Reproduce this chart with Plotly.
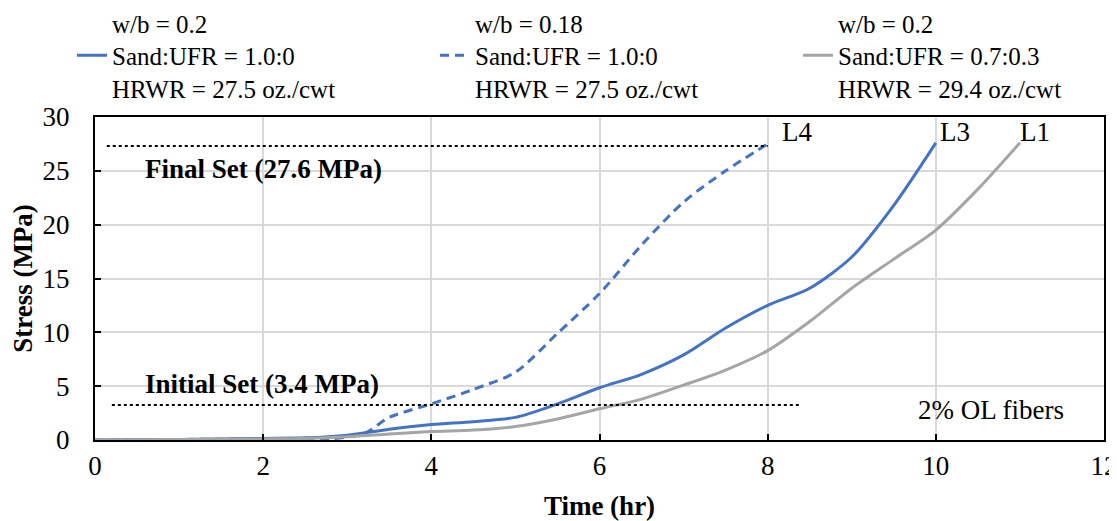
import plotly.graph_objects as go

# ---- data ----
t_L3 = [0, 1, 2, 2.5, 3, 3.5, 4, 4.5, 5, 5.5, 6, 6.5, 7, 7.5, 8, 8.5, 9, 9.5, 10]
s_L3 = [0, 0.05, 0.15, 0.2, 0.45, 1.0, 1.43, 1.7, 2.1, 3.35, 4.85, 6.1, 7.9, 10.4, 12.5, 14.1, 17.0, 21.8, 27.6]

t_L4 = [0, 1, 2, 2.5, 2.8, 3.2, 3.5, 4, 4.5, 5, 5.5, 6, 6.5, 7, 7.5, 8]
s_L4 = [0, 0.05, 0.1, 0.1, 0.1, 0.6, 2.1, 3.35, 4.7, 6.3, 9.9, 13.6, 18.1, 22.1, 25.0, 27.5]

t_L1 = [0, 1, 2, 2.5, 3, 3.5, 4, 4.5, 5, 5.5, 6, 6.5, 7, 7.5, 8, 8.5, 9, 9.5, 10, 10.5, 11]
s_L1 = [0, 0.05, 0.1, 0.15, 0.3, 0.55, 0.78, 0.92, 1.25, 1.95, 2.9, 3.8, 5.1, 6.5, 8.3, 11.0, 14.1, 16.8, 19.5, 23.3, 27.6]

names = [
    "w/b = 0.2<br>Sand:UFR = 1.0:0<br>HRWR = 27.5 oz./cwt",
    "w/b = 0.18<br>Sand:UFR = 1.0:0<br>HRWR = 27.5 oz./cwt",
    "w/b = 0.2<br>Sand:UFR = 0.7:0.3<br>HRWR = 29.4 oz./cwt",
]
curve_labels = ["L3", "L4", "L1"]

initial_set_t = [0.2, 8.4]
initial_set_s = [3.25, 3.25]
final_set_t = [0.14, 8.0]
final_set_s = [27.3, 27.3]

x_ticks = [0, 2, 4, 6, 8, 10, 12]
y_ticks = [0, 5, 10, 15, 20, 25, 30]

BLUE = "#4472C4"
GRAY = "#A5A5A5"
FONT = "Liberation Serif"

# page has an 8px body margin: figure is 8px smaller so the plot area lands where the reference has it
W, H = 1109, 513
ML, MR, MT, MB = 87, 13, 109, 81
PW, PH = W - ML - MR, H - MT - MB

fig = go.Figure()
fig.add_trace(go.Scatter(x=t_L3, y=s_L3, mode="lines", name=names[0],
                         line=dict(color=BLUE, width=3, shape="spline", smoothing=0.8)))
fig.add_trace(go.Scatter(x=t_L4, y=s_L4, mode="lines", name=names[1],
                         line=dict(color=BLUE, width=3, dash="9px,6px", shape="spline", smoothing=0.8)))
fig.add_trace(go.Scatter(x=t_L1, y=s_L1, mode="lines", name=names[2],
                         line=dict(color=GRAY, width=3, shape="spline", smoothing=0.8)))

fig.add_trace(go.Scatter(x=initial_set_t, y=initial_set_s, mode="lines", showlegend=False,
                         line=dict(color="black", width=2, dash="dot")))
fig.add_trace(go.Scatter(x=final_set_t, y=final_set_s, mode="lines", showlegend=False,
                         line=dict(color="black", width=2, dash="dot")))

ann_font = dict(family=FONT, size=27, color="black")
fig.add_annotation(x=0.57, y=25.2, text="<b>Final Set (27.6 MPa)</b>", showarrow=False,
                   xanchor="left", yanchor="middle", font=ann_font)
fig.add_annotation(x=0.57, y=5.2, text="<b>Initial Set (3.4 MPa)</b>", showarrow=False,
                   xanchor="left", yanchor="middle", font=ann_font)
fig.add_annotation(x=8.15, y=28.6, text=curve_labels[1], showarrow=False,
                   xanchor="left", yanchor="middle", font=ann_font)
fig.add_annotation(x=10.03, y=28.6, text=curve_labels[0], showarrow=False,
                   xanchor="left", yanchor="middle", font=ann_font)
fig.add_annotation(x=10.98, y=28.6, text=curve_labels[2], showarrow=False,
                   xanchor="left", yanchor="middle", font=ann_font)
fig.add_annotation(x=11.55, y=2.8, text="2% OL fibers", showarrow=False,
                   xanchor="right", yanchor="middle", font=ann_font)

axis_common = dict(
    showline=True, linecolor="black", linewidth=2, mirror=True,
    showgrid=True, gridcolor="#D9D9D9", gridwidth=1.5,
    ticks="inside", ticklen=6, tickcolor="black", tickwidth=1.5,
    zeroline=False, tickfont=dict(family=FONT, size=27, color="black"),
    automargin=False, ticklabeloverflow="allow",
)

fig.update_xaxes(range=[0, 12], tickvals=x_ticks, **axis_common, ticklabelstandoff=1,
                 title=dict(text="<b>Time (hr)</b>", font=dict(family=FONT, size=27, color="black"), standoff=20))
fig.update_yaxes(range=[0, 30], tickvals=y_ticks, **axis_common, ticklabelstandoff=18,
                 title=dict(text="<b>Stress (MPa)</b>", font=dict(family=FONT, size=27, color="black"), standoff=8))

fig.update_layout(
    width=W, height=H,
    margin=dict(l=ML, r=MR, t=MT, b=MB, autoexpand=False),
    paper_bgcolor="white", plot_bgcolor="white",
    font=dict(family=FONT, size=27, color="black"),
    legend=dict(orientation="h", x=-23 / PW, xanchor="left", xref="paper",
                y=1 + (MT + 8) / PH, yanchor="top", yref="paper",
                entrywidth=318, entrywidthmode="pixels",
                font=dict(family=FONT, size=25, color="black"), valign="middle",
                bgcolor="rgba(0,0,0,0)", tracegroupgap=0),
)

fig.write_html("out.html")
